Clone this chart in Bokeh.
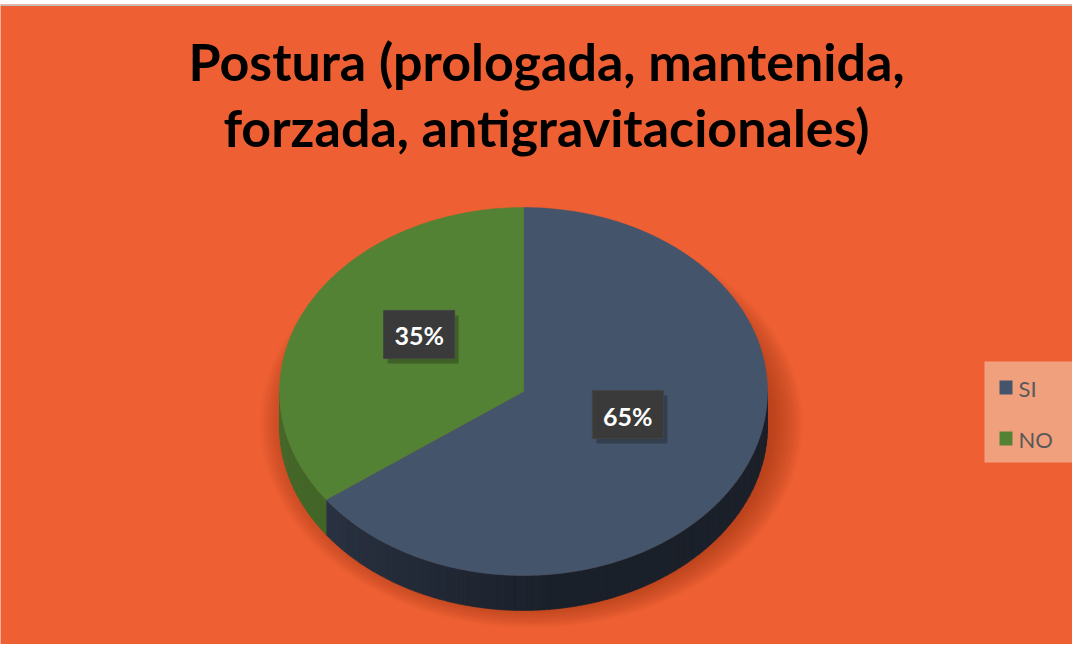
import numpy as np
from bokeh.plotting import figure
from bokeh.models import Range1d
from bokeh.core.properties import value
from bokeh.embed import file_html
from bokeh.resources import INLINE

# ---- data ----
title_lines = ["Postura (prologada, mantenida,", "forzada, antigravitacionales)"]
categories = ["SI", "NO"]
shares = [65, 35]
top_colors = ["#44546A", "#548235"]
side_colors = [("#323D50", "#1A202A"), ("#456B2B", "#3A5C24")]
label_texts = [f"{s}%" for s in shares]

BG = "#EE6033"
W, H = 1072, 644

p = figure(width=W, height=H, output_backend="svg", toolbar_location=None,
           x_range=Range1d(8, 8 + W), y_range=Range1d(8 + H, 12),
           min_border_left=0, min_border_right=0, min_border_top=4, min_border_bottom=0)
p.axis.visible = False
p.grid.visible = False
p.background_fill_color = BG
p.border_fill_color = "white"
p.outline_line_color = None

# top frame line
p.segment(x0=[8], y0=[12.7], x1=[8 + W], y1=[12.7], line_color="#BFBFBF", line_width=1.5)

# pie geometry (screen-like coordinates, y down)
cx, cy, rx, ry, depth = 531.0, 399.0, 244.0, 184.0, 35.0

def pt(theta_deg, dy=0.0, sx=1.0, sy=1.0, ccx=cx, ccy=cy):
    t = np.radians(theta_deg)
    return ccx + rx * sx * np.cos(t), ccy - ry * sy * np.sin(t) + dy

# shadow (soft, layered)
for i in range(16):
    k = 1.11 - i * 0.01
    t = np.linspace(0, 360, 200)
    xs, ys = pt(t, sx=k, sy=k, ccx=cx + 8, ccy=cy + 32)
    p.patch(xs, ys, fill_color="#9E3612", fill_alpha=0.06, line_alpha=0)

# slice angles: start at 12 o'clock, clockwise
total = float(sum(shares))
angles = []
start = 90.0
for s in shares:
    end = start - 360.0 * s / total
    angles.append((end, start))  # math angles (low, high)
    start = end

# sides (front half: 180..360)
for (a0, a1), (c_left, c_right) in zip(angles, side_colors):
    for shift in (-360.0, 0.0, 360.0):
        lo = max(a0 + shift, 180.0)
        hi = min(a1 + shift, 360.0)
        if hi <= lo:
            continue
        n = max(2, int((hi - lo) / 2))
        edges = np.linspace(lo, hi, n + 1)
        cl = np.array([int(c_left[i:i + 2], 16) for i in (1, 3, 5)], float)
        cr = np.array([int(c_right[i:i + 2], 16) for i in (1, 3, 5)], float)
        for j in range(n):
            e0, e1 = edges[j], edges[j + 1]
            tt = np.linspace(e0, e1, 4)
            x1, y1 = pt(tt)
            x2, y2 = pt(tt[::-1], dy=depth)
            frac = ((e0 + e1) / 2 - 180.0) / 180.0
            f = min(1.0, frac * 1.8)
            c = cl + (cr - cl) * f
            col = "#%02x%02x%02x" % tuple(int(v) for v in c)
            p.patch(np.concatenate([x1, x2]), np.concatenate([y1, y2]),
                    fill_color=col, line_color=col, line_width=0.6)

# top faces
for (a0, a1), col in zip(angles, top_colors):
    t = np.linspace(a0, a1, 200)
    xs, ys = pt(t)
    p.patch(np.concatenate([[cx], xs]), np.concatenate([[cy], ys]),
            fill_color=col, line_color=col, line_width=0.5)

# data labels
for (a0, a1), txt in zip(angles, label_texts):
    mid = (a0 + a1) / 2
    lx, ly = pt(mid, sx=0.48, sy=0.48, ccy=cy - 17)
    bw, bh = 71, 48
    p.quad(left=lx - bw / 2 + 4, right=lx + bw / 2 + 4, top=ly - bh / 2 + 5, bottom=ly + bh / 2 + 5,
           fill_color="black", fill_alpha=0.25, line_alpha=0)
    p.quad(left=lx - bw / 2, right=lx + bw / 2, top=ly - bh / 2, bottom=ly + bh / 2,
           fill_color="#3A3A3A", line_color="#444444")
    p.text(x=[lx], y=[ly + 1], text=[txt], text_color="white", text_font=value("Lato"),
           text_font_style="bold", text_font_size="25px", text_align="center",
           text_baseline="middle")

# title
title_y = [68, 134]
for line, ty in zip(title_lines, title_y):
    p.text(x=[554], y=[ty], text=[line], text_color="black", text_font=value("Lato"),
           text_font_style="bold", text_font_size="52px", text_align="center",
           text_baseline="middle")

# legend
p.quad(left=992, right=1082, top=369, bottom=470, fill_color="#F1A07E", line_alpha=0)
leg_y = [395, 446]
for cat, col, yy in zip(categories, top_colors, leg_y):
    p.quad(left=1007, right=1020, top=yy - 7, bottom=yy + 7, fill_color=col, line_alpha=0)
    p.text(x=[1026], y=[yy + 1], text=[cat], text_color="#595959", text_font=value("Lato"),
           text_font_size="22px", text_align="left", text_baseline="middle")

open("out.html", "w").write(file_html(p, INLINE))
